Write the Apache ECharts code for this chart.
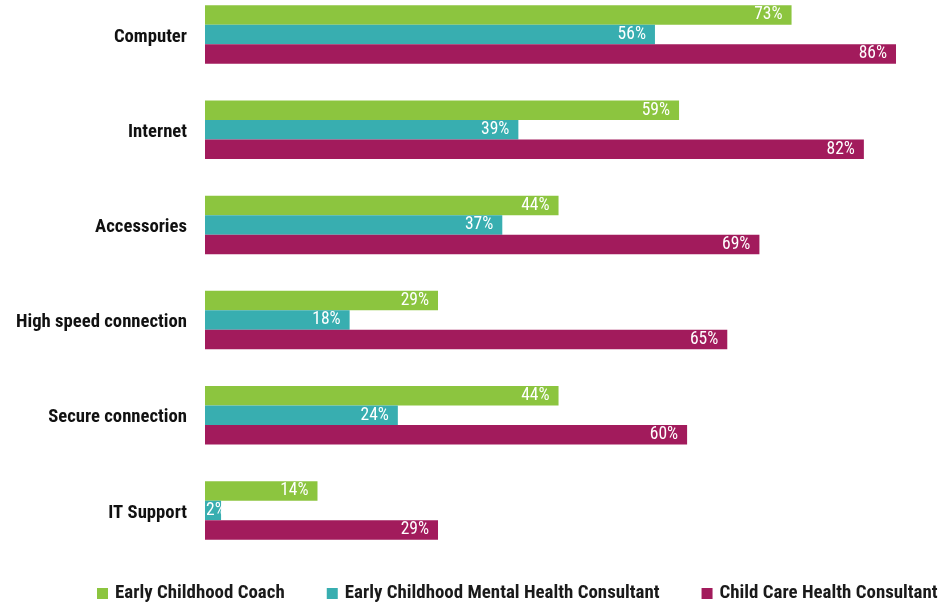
<!DOCTYPE html>
<html>
<head>
<meta charset="utf-8">
<script src="https://cdn.jsdelivr.net/npm/echarts@6/dist/echarts.min.js"></script>
<style>
html,body{margin:0;padding:0;background:#fff;}
#chart{width:950px;height:602px;}
</style>
</head>
<body>
<div id="chart"></div>
<script>
const categories = ["Computer", "Internet", "Accessories", "High speed connection", "Secure connection", "IT Support"];
const seriesNames = ["Early Childhood Coach", "Early Childhood Mental Health Consultant", "Child Care Health Consultant"];
const coachValues = [73, 59, 44, 29, 44, 14];
const mentalHealthValues = [56, 39, 37, 18, 24, 2];
const childCareValues = [86, 82, 69, 65, 60, 29];
const colors = ["#8cc53f", "#38aeb0", "#a21b5c"];

const FONT = "'Roboto Condensed', 'Roboto', sans-serif";

function makeData(vals) {
  return vals.map(v => {
    if (v < 5) {
      return { value: v, label: { position: 'insideLeft', distance: 1 } };
    }
    return v;
  });
}

const valueArrays = [coachValues, mentalHealthValues, childCareValues];

const chart = echarts.init(document.getElementById('chart'), null, { renderer: 'canvas' });
chart.setOption({
  animation: false,
  color: colors,
  textStyle: { fontFamily: FONT },
  grid: { left: 205, top: -13, width: 803.5, height: 571, containLabel: false, outerBoundsMode: 'none' },
  xAxis: {
    type: 'value', min: 0, max: 100, show: false
  },
  yAxis: {
    type: 'category', data: categories, inverse: true,
    axisLine: { show: false }, axisTick: { show: false },
    axisLabel: {
      margin: 18, color: '#111', fontSize: 18.7, fontWeight: 'bold', fontFamily: FONT,
      formatter: v => '{c|' + v + '}',
      rich: { c: { color: '#111', fontSize: 18.7, fontWeight: 'bold', fontFamily: FONT, padding: [5, 0, 0, 0] } }
    }
  },
  legend: {
    top: 579, left: 92,
    itemWidth: 11, itemHeight: 11, itemGap: 42,
    icon: 'rect',
    textStyle: { fontSize: 18.9, fontWeight: 'bold', color: '#1a1a1a', fontFamily: FONT, padding: [0, 0, 0, 2] },
    data: seriesNames
  },
  series: seriesNames.map((name, i) => ({
    name: name,
    type: 'bar',
    data: makeData(valueArrays[i]),
    barGap: '0%',
    barCategoryGap: '38.5%',
    label: {
      show: true, position: 'insideRight', distance: 9,
      formatter: '{c}%', color: '#fff', fontSize: 17.5, fontFamily: FONT, padding: [3, 0, 0, 0]
    }
  }))
});
</script>
</body>
</html>
